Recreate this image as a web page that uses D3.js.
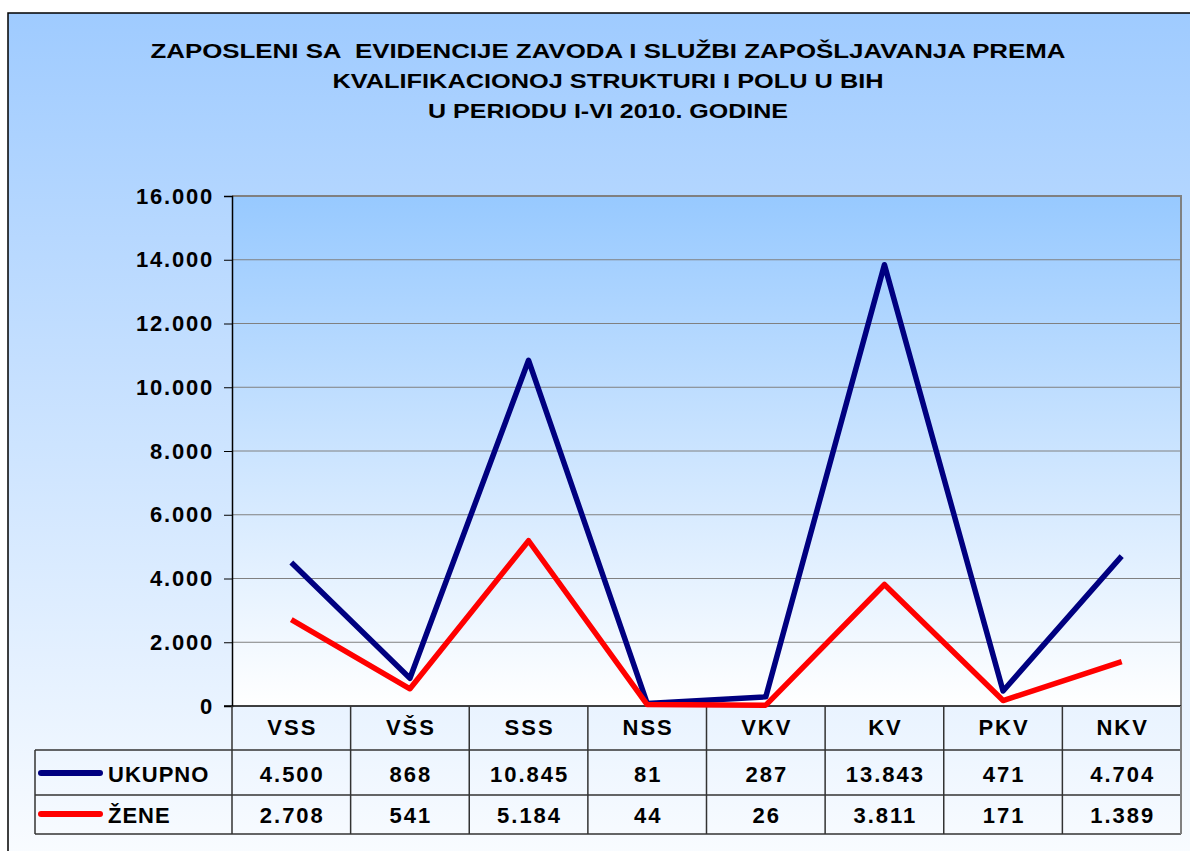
<!DOCTYPE html>
<html>
<head>
<meta charset="utf-8">
<script src="https://cdn.jsdelivr.net/npm/d3@7"></script>
<style>
  body { margin: 0; background: #fff; }
  svg text { font-family: "Liberation Sans", Arial, sans-serif; font-weight: bold; fill: #000; }
</style>
</head>
<body>
<div id="chart"></div>
<script>
// data
const categories = ["VSS", "VŠS", "SSS", "NSS", "VKV", "KV", "PKV", "NKV"];
const ukupno = [4500, 868, 10845, 81, 287, 13843, 471, 4704];
const zene = [2708, 541, 5184, 44, 26, 3811, 171, 1389];
const yTicks = [0, 2000, 4000, 6000, 8000, 10000, 12000, 14000, 16000];
const titleLines = [
  "ZAPOSLENI SA  EVIDENCIJE ZAVODA I SLUŽBI ZAPOŠLJAVANJA PREMA",
  "KVALIFIKACIONOJ STRUKTURI I POLU U BIH",
  "U PERIODU I-VI 2010. GODINE"
];
// measured widths of the title lines (text is stretched in the original)
const titleWidths = [915, 551, 360];

const series = [
  {name: "UKUPNO", values: ukupno, color: "#000080"},
  {name: "ŽENE", values: zene, color: "#ff0000"}
];

const width = 1190, height = 851;
const plot = {left: 232, right: 1181, top: 196, bottom: 706};
const rowY = [706, 750, 795, 834];

const loc = d3.formatLocale({decimal: ",", thousands: ".", grouping: [3], currency: ["", ""]});
const fmt = loc.format(",d");

const svg = d3.select("#chart").append("svg")
  .attr("width", width).attr("height", height);

const defs = svg.append("defs");
const bgGrad = defs.append("linearGradient").attr("id", "bg").attr("x1", 0).attr("y1", 0).attr("x2", 0).attr("y2", 1);
bgGrad.append("stop").attr("offset", "0%").attr("stop-color", "#9fcbff");
bgGrad.append("stop").attr("offset", "100%").attr("stop-color", "#ffffff");
const plotGrad = defs.append("linearGradient").attr("id", "pg").attr("x1", 0).attr("y1", 0).attr("x2", 0).attr("y2", 1);
plotGrad.append("stop").attr("offset", "0%").attr("stop-color", "#97c9ff");
plotGrad.append("stop").attr("offset", "100%").attr("stop-color", "#ffffff");

// outer chart area
svg.append("rect")
  .attr("x", 8).attr("y", 13).attr("width", 1200).attr("height", 900)
  .attr("fill", "url(#bg)").attr("stroke", "#000").attr("stroke-width", 1.5);

// title
svg.append("g").selectAll("text").data(titleLines).join("text")
  .attr("x", 608).attr("y", (d, i) => 58 + i * 30)
  .attr("text-anchor", "middle")
  .attr("textLength", (d, i) => titleWidths[i])
  .attr("lengthAdjust", "spacingAndGlyphs")
  .style("font-size", "21px")
  .style("white-space", "pre")
  .text(d => d);

const x = d3.scaleBand().domain(categories).range([plot.left, plot.right]).padding(0);
const y = d3.scaleLinear().domain([0, 16000]).range([plot.bottom, plot.top]);

// plot area
svg.append("rect")
  .attr("x", plot.left).attr("y", plot.top)
  .attr("width", plot.right - plot.left).attr("height", plot.bottom - plot.top)
  .attr("fill", "url(#pg)");

// grid lines
svg.append("g").selectAll("line").data(yTicks.filter(t => t > 0 && t < 16000)).join("line")
  .attr("x1", plot.left).attr("x2", plot.right)
  .attr("y1", d => y(d)).attr("y2", d => y(d))
  .attr("stroke", "#808080").attr("stroke-width", 1);

// top and right border
svg.append("path")
  .attr("d", `M${plot.left},${plot.top}H${plot.right}V${plot.bottom}`)
  .attr("fill", "none").attr("stroke", "#808080").attr("stroke-width", 2);

// y axis
const yAxis = svg.append("g")
  .attr("transform", `translate(${plot.left},0)`)
  .call(d3.axisLeft(y).tickValues(yTicks).tickFormat(fmt).tickSize(8).tickPadding(10));
yAxis.select(".domain").attr("stroke", "#000").attr("stroke-width", 1.5);
yAxis.selectAll(".tick line").attr("stroke", "#000");
yAxis.selectAll(".tick text")
  .style("font-size", "22px").style("letter-spacing", "1.8px")
  .attr("font-family", null).attr("fill", "#000");

// bottom axis line
svg.append("line")
  .attr("x1", plot.left - 8).attr("x2", plot.right)
  .attr("y1", plot.bottom).attr("y2", plot.bottom)
  .attr("stroke", "#000").attr("stroke-width", 1.5);

// data table
const table = svg.append("g").attr("stroke", "#333").attr("stroke-width", 1.5);
rowY.slice(1).forEach(ry => {
  table.append("line").attr("x1", 35).attr("x2", plot.right).attr("y1", ry).attr("y2", ry);
});
table.append("line").attr("x1", 35).attr("x2", 35).attr("y1", rowY[1]).attr("y2", rowY[3]);
table.selectAll(".vcol").data(categories).join("line")
  .attr("class", "vcol")
  .attr("x1", d => x(d)).attr("x2", d => x(d))
  .attr("y1", rowY[0]).attr("y2", rowY[3]);
table.append("line").attr("x1", plot.right).attr("x2", plot.right)
  .attr("y1", rowY[0]).attr("y2", rowY[3]).attr("stroke", "#808080").attr("stroke-width", 2);

const cellText = svg.append("g")
  .style("font-size", "22px").style("letter-spacing", "2px")
  .attr("text-anchor", "middle");
cellText.selectAll(".cat").data(categories).join("text")
  .attr("class", "cat")
  .attr("x", d => x(d) + x.bandwidth() / 2 + 1)
  .attr("y", 735)
  .text(d => d);

series.forEach((s, si) => {
  const base = si === 0 ? 782 : 823;
  cellText.append("g").selectAll("text").data(s.values).join("text")
    .attr("x", (d, i) => x(categories[i]) + x.bandwidth() / 2 + 1)
    .attr("y", base)
    .text(d => fmt(d));
  const ly = base - 9;
  svg.append("line")
    .attr("x1", 41).attr("x2", 100).attr("y1", ly).attr("y2", ly)
    .attr("stroke", s.color).attr("stroke-width", 6).attr("stroke-linecap", "round");
  svg.append("text")
    .attr("x", 108).attr("y", base)
    .style("font-size", "22px").style("letter-spacing", "1px")
    .text(s.name);
});

// lines
const line = d3.line()
  .x((d, i) => x(categories[i]) + x.bandwidth() / 2)
  .y(d => y(d));
series.forEach(s => {
  svg.append("path")
    .datum(s.values)
    .attr("d", line)
    .attr("fill", "none")
    .attr("stroke", s.color)
    .attr("stroke-width", 5.5)
    .attr("stroke-linejoin", "round");
});
</script>
</body>
</html>
